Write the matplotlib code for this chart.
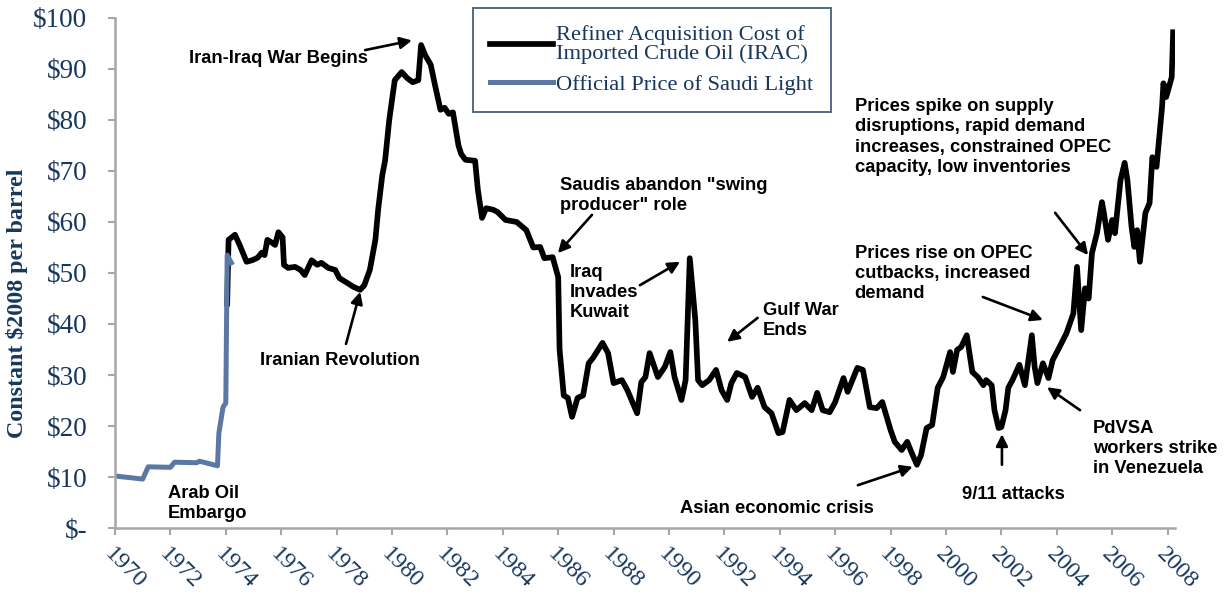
import matplotlib.pyplot as plt

# Official Price of Saudi Light, constant $2008 per barrel
saudi_years = [1970.0, 1971.0, 1971.2, 1972.0, 1972.15, 1972.95, 1973.05, 1973.7,
               1973.75, 1973.9, 1974.0, 1974.05, 1974.2]
saudi_price = [10.2, 9.6, 12.0, 11.9, 12.9, 12.8, 13.1, 12.2,
               18.6, 23.7, 24.5, 53.5, 52.0]

# Refiner Acquisition Cost of Imported Crude Oil (IRAC)
irac_years = [1974.05, 1974.1, 1974.33, 1974.5, 1974.75, 1974.95, 1975.15, 1975.3, 1975.4,
              1975.5, 1975.65, 1975.78, 1975.9, 1976.05, 1976.1, 1976.25, 1976.5, 1976.7,
              1976.85, 1977.1, 1977.3, 1977.45, 1977.7, 1977.95, 1978.1, 1978.4, 1978.6,
              1978.85, 1979.0, 1979.2, 1979.4, 1979.5, 1979.65, 1979.75, 1979.9, 1980.1,
              1980.35, 1980.55, 1980.75, 1980.95, 1981.05, 1981.2, 1981.4, 1981.55, 1981.75,
              1981.9, 1982.05, 1982.2, 1982.4, 1982.5, 1982.65, 1983.0, 1983.1, 1983.25,
              1983.4, 1983.65, 1983.8, 1984.1, 1984.5, 1984.85, 1985.1, 1985.35, 1985.5,
              1985.8, 1986.0, 1986.05, 1986.2, 1986.35, 1986.5, 1986.7, 1986.9, 1987.1,
              1987.25, 1987.6, 1987.8, 1988.0, 1988.3, 1988.5, 1988.85, 1989.0, 1989.15,
              1989.3, 1989.6, 1989.85, 1990.05, 1990.2, 1990.45, 1990.6, 1990.75, 1990.95,
              1991.05, 1991.2, 1991.45, 1991.7, 1991.9, 1992.1, 1992.25, 1992.45, 1992.75,
              1993.0, 1993.2, 1993.45, 1993.7, 1993.95, 1994.1, 1994.35, 1994.6, 1994.9,
              1995.15, 1995.35, 1995.55, 1995.8, 1996.0, 1996.3, 1996.45, 1996.8, 1997.0,
              1997.25, 1997.5, 1997.7, 1998.0, 1998.15, 1998.4, 1998.6, 1998.75, 1998.95,
              1999.1, 1999.3, 1999.5, 1999.7, 1999.9, 2000.15, 2000.25, 2000.4, 2000.55,
              2000.75, 2000.95, 2001.15, 2001.35, 2001.45, 2001.65, 2001.75, 2001.9, 2002.0,
              2002.15, 2002.25, 2002.4, 2002.65, 2002.85, 2003.1, 2003.2, 2003.3, 2003.5,
              2003.7, 2003.85, 2004.1, 2004.35, 2004.6, 2004.73, 2004.88, 2005.02, 2005.15,
              2005.27, 2005.45, 2005.63, 2005.7, 2005.85, 2006.0, 2006.1, 2006.3, 2006.45,
              2006.55, 2006.7, 2006.8, 2006.9, 2007.0, 2007.2, 2007.35, 2007.45, 2007.6,
              2007.8, 2007.85, 2007.95, 2008.15, 2008.2]
irac_price = [44.0, 56.5, 57.5, 55.5, 52.2, 52.5, 53.0, 54.0, 53.5,
              56.5, 56.0, 55.5, 58.0, 57.0, 51.6, 51.0, 51.2, 50.6,
              49.6, 52.5, 51.6, 52.0, 51.0, 50.6, 49.0, 48.0, 47.3,
              46.7, 47.6, 50.6, 56.5, 62.4, 69.2, 72.0, 80.0, 87.8,
              89.4, 88.2, 87.4, 87.8, 94.7, 92.7, 90.8, 86.9, 82.0,
              82.4, 81.2, 81.5, 75.0, 73.3, 72.2, 72.0, 66.3, 60.8,
              62.7, 62.4, 62.0, 60.4, 60.0, 58.4, 55.0, 55.1, 52.9,
              53.1, 49.2, 35.0, 26.0, 25.5, 21.8, 25.5, 26.0, 32.3,
              33.3, 36.3, 34.3, 28.4, 29.0, 27.0, 22.5, 28.6, 29.6,
              34.3, 29.6, 31.6, 34.5, 29.6, 25.1, 29.0, 52.9, 40.8,
              29.0, 28.0, 29.0, 31.0, 27.0, 25.1, 28.4, 30.4, 29.6,
              25.7, 27.5, 23.7, 22.5, 18.6, 18.8, 25.1, 23.1, 24.5,
              23.1, 26.5, 23.1, 22.7, 24.7, 29.4, 26.7, 31.4, 31.0,
              23.7, 23.5, 24.7, 19.2, 16.9, 15.3, 16.9, 14.9, 12.4,
              14.3, 19.6, 20.2, 27.5, 29.6, 34.5, 30.6, 34.9, 35.5,
              37.8, 30.6, 29.6, 28.0, 29.0, 28.0, 23.1, 19.6, 19.8,
              23.1, 27.5, 29.0, 32.0, 28.0, 37.8, 31.6, 28.4, 32.3,
              29.4, 32.9, 35.5, 38.2, 42.1, 51.2, 38.8, 47.0, 45.0,
              53.9, 57.8, 63.9, 61.8, 56.5, 60.4, 57.8, 68.2, 71.6,
              68.2, 59.0, 55.1, 58.4, 52.2, 61.8, 63.7, 72.7, 70.8,
              82.5, 87.2, 84.5, 88.4, 97.2]

year_ticks = list(range(1970, 2009, 2))
price_ticks = [0, 10, 20, 30, 40, 50, 60, 70, 80, 90, 100]
price_labels = ["$-"] + ["$%d" % p for p in price_ticks[1:]]

navy = "#17375E"
axis_gray = "#A6A6A6"
serif = "Liberation Serif"

fig = plt.figure(figsize=(12.26, 5.99), dpi=100)
ax = fig.add_axes([0.0938, 0.1185, 0.8642, 0.8515])

ax.plot(irac_years, irac_price, color="black", lw=4.1, solid_joinstyle="round",
        label="Refiner Acquisition Cost of\nImported Crude Oil (IRAC)")
ax.plot(saudi_years, saudi_price, color="#5B78A5", lw=3.6, solid_joinstyle="round",
        label="Official Price of Saudi Light")

ax.set_xlim(1970, 2008.25)
ax.set_ylim(0, 100)
ax.set_xticks(year_ticks)
ax.set_xticklabels([str(y) for y in year_ticks], rotation=-45, ha="left", va="top",
                   rotation_mode="anchor", family=serif, fontsize=17.5, color=navy)
ax.set_yticks(price_ticks)
ax.set_yticklabels(price_labels, family=serif, fontsize=19.5, color=navy)
ax.tick_params(axis="both", colors=axis_gray, length=5, width=1.5)
ax.tick_params(axis="x", pad=6)
ax.tick_params(axis="y", pad=15)
for lab in ax.get_xticklabels() + ax.get_yticklabels():
    lab.set_color(navy)
for s in ["top", "right"]:
    ax.spines[s].set_visible(False)
for s in ["left", "bottom"]:
    ax.spines[s].set_color(axis_gray)
    ax.spines[s].set_linewidth(1.8)

ax.set_ylabel("Constant $2008 per barrel", family=serif, fontsize=17.3,
              fontweight="bold", color=navy)
ax.yaxis.set_label_coords(-0.082, 0.44)

leg = ax.legend(loc="upper left", bbox_to_anchor=(0.386, 0.987),
                bbox_transform=fig.transFigure, borderaxespad=0, frameon=True,
                fancybox=False, handlelength=2.8, handletextpad=0.15,
                labelspacing=0.45, borderpad=0.75,
                prop={"family": serif, "size": 16.2})
leg.get_frame().set_edgecolor(navy)
leg.get_frame().set_linewidth(1.3)
for t in leg.get_texts():
    t.set_color(navy)
    t.set_linespacing(1.0)

# annotations: text, text position (left/top), arrow tail, arrow head
notes = [
    ("Iran-Iraq War Begins", (1972.67, 93.8), (1979.03, 93.7), (1980.72, 95.6)),
    ("Arab Oil\nEmbargo", (1971.9, 8.4), None, None),
    ("Iranian Revolution", (1975.23, 34.6), (1978.34, 36.1), (1978.85, 46.3)),
    ('Saudis abandon "swing\nproducer" role', (1986.07, 68.8), (1987.22, 61.4), (1985.99, 53.9)),
    ("Iraq\nInvades\nKuwait", (1986.43, 51.8), (1988.95, 47.6), (1990.4, 52.2)),
    ("Gulf War\nEnds", (1993.4, 44.3), (1993.2, 41.2), (1992.1, 36.5)),
    ("Prices spike on supply\ndisruptions, rapid demand\nincreases, constrained OPEC\n"
     "capacity, low inventories", (1996.7, 84.3), (2003.94, 61.8), (2005.13, 53.5)),
    ("Prices rise on OPEC\ncutbacks, increased\ndemand", (1996.7, 55.5), (2001.33, 45.3), (2003.5, 40.8)),
    ("PdVSA\nworkers strike\nin Venezuela", (2005.3, 21.2), (2004.84, 23.1), (2003.65, 27.6)),
    ("9/11 attacks", (2000.58, 8.3), (2002.02, 12.4), (2002.02, 18.4)),
    ("Asian economic crisis", (1990.4, 5.5), (1996.82, 8.4), (1998.8, 12.0)),
]
for text, pos, tail, head in notes:
    ax.text(pos[0], pos[1], text, ha="left", va="top", family="Liberation Sans",
            fontweight="bold", fontsize=13.2, color="black", linespacing=1.25)
    if tail is not None:
        ax.annotate("", xy=head, xytext=tail,
                    arrowprops=dict(arrowstyle="-|>,head_length=0.7,head_width=0.35",
                                    color="black", lw=1.9, shrinkA=0, shrinkB=0))

fig.savefig("out.png", dpi=100, facecolor="white")
